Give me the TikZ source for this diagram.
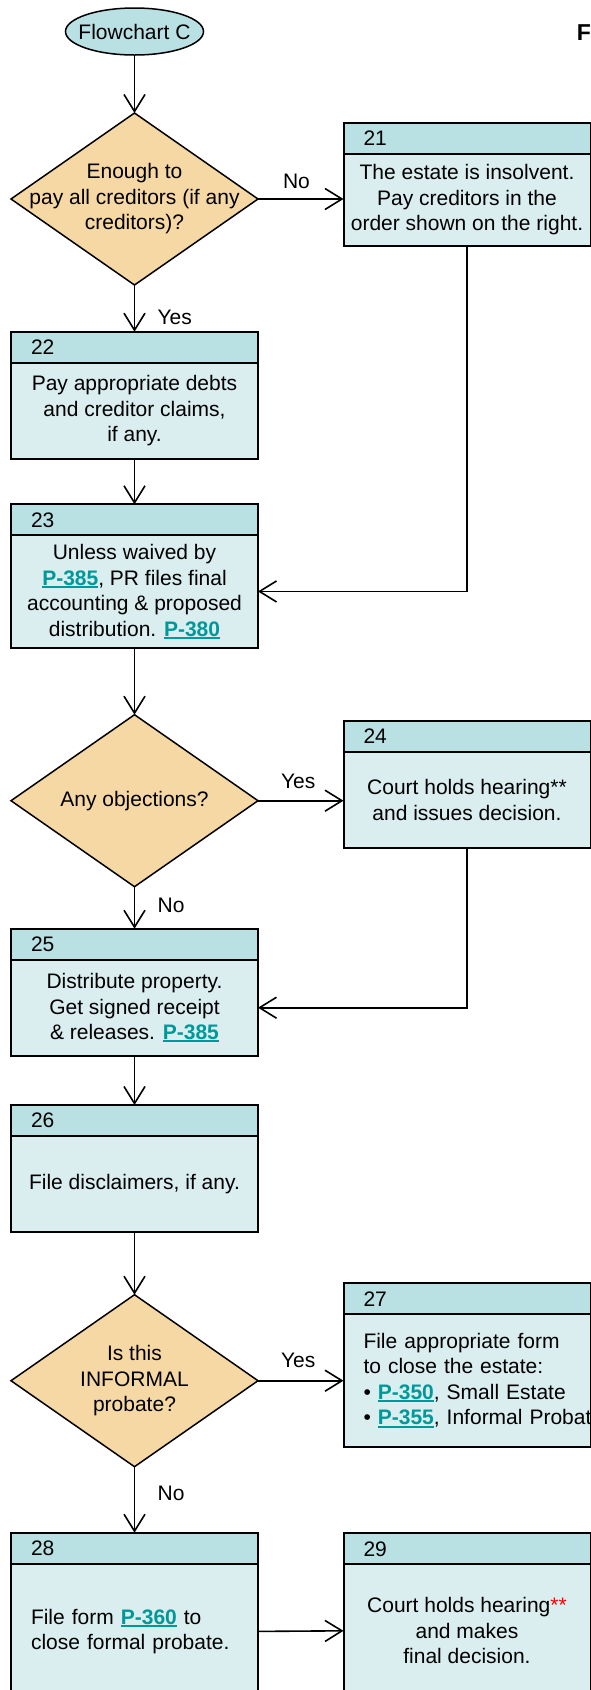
\documentclass[tikz,border=0pt]{standalone}
\usepackage{fontspec}
\setmainfont{Liberation Sans}
\usetikzlibrary{shapes.geometric,positioning,arrows.meta}

\definecolor{headfill}{RGB}{185,224,227}
\definecolor{bodyfill}{RGB}{218,237,239}
\definecolor{decfill}{RGB}{246,216,165}
\definecolor{linkteal}{RGB}{0,153,153}

% bold teal form number with a heavy underline
\newsavebox\linkbox
\newcommand{\plink}[1]{\sbox\linkbox{\bfseries\color{linkteal}#1}{\color{linkteal}\rlap{\rule[-2.6pt]{\wd\linkbox}{1.8pt}}}\usebox\linkbox}

\tikzset{
  headbox/.style={draw, line width=2pt, fill=headfill, outer sep=0pt, minimum height=31pt,
    text width=207pt, inner xsep=20pt, inner ysep=3pt, align=left},
  bodybox/.style={draw, line width=2pt, fill=bodyfill, outer sep=0pt, minimum width=247pt,
    inner xsep=0pt, inner ysep=3pt, align=center},
  leftbody/.style={draw, line width=2pt, fill=bodyfill, outer sep=0pt, text width=207pt,
    inner xsep=20pt, inner ysep=3pt, align=left},
  decision/.style={diamond, draw, line width=1.5pt, fill=decfill, minimum width=247pt,
    minimum height=172pt, inner sep=0pt, outer sep=0pt},
}

\begin{document}
\begin{tikzpicture}[x=1pt, y=-1pt, font=\fontsize{21}{25.5}\selectfont, line width=1.6pt,
    >={Straight Barb[length=17pt,width=21pt]}]
    \useasboundingbox (0,0) rectangle (591,1690);
    \clip (0,0) rectangle (591,1690);

    % start and title
    \node[ellipse, draw, line width=1.5pt, fill=headfill, minimum width=138pt, minimum height=47pt, inner sep=0pt] (start) at (134.5,31.5) {};
    \node (starttext) at (start) {Flowchart C};
    \node[anchor=base west, inner sep=0pt, font=\fontsize{23}{27}\selectfont\bfseries] (title) at (576,40) {F};

    % first question
    \node[decision] (q1) at (134.5,199) {};
    \node[align=center] (q1text) at (q1) {Enough to\\ pay all creditors (if any\\ creditors)?};

    \node[headbox, anchor=north west] (h21) at (343.5,122.7) {21};
    \node[bodybox, below=0pt of h21, minimum height=92.7pt] (b21) {The estate is insolvent.\\ Pay creditors in the\\ order shown on the right.};

    \node[headbox, anchor=north west] (h22) at (11,331.7) {22};
    \node[bodybox, below=0pt of h22, minimum height=96.6pt] (b22) {Pay appropriate debts\\ and creditor claims,\\ if any.};

    \node[headbox, anchor=north west] (h23) at (11,504.3) {23};
    \node[bodybox, below=0pt of h23, minimum height=112.3pt] (b23) {Unless waived by\\ \plink{P-385}, PR files final\\ accounting \& proposed\\ distribution. \plink{P-380}};

    % objections
    \node[decision] (q2) at (134.5,800.7) {};
    \node (q2text) at (q2) {Any objections?};

    \node[headbox, anchor=north west] (h24) at (343.5,721) {24};
    \node[bodybox, below=0pt of h24, minimum height=96.4pt] (b24) {Court holds hearing**\\ and issues decision.};

    \node[headbox, anchor=north west] (h25) at (11,928.7) {25};
    \node[bodybox, below=0pt of h25, minimum height=96pt] (b25) {Distribute property.\\ Get signed receipt\\ \& releases. \plink{P-385}};

    \node[headbox, anchor=north west] (h26) at (11,1105) {26};
    \node[bodybox, below=0pt of h26, minimum height=95.6pt] (b26) {File disclaimers, if any.};

    % informal or formal
    \node[decision] (q3) at (134.5,1380.7) {};
    \node[align=center] (q3text) at (q3) {Is this\\ INFORMAL\\ probate?};

    \node[headbox, anchor=north west] (h27) at (343.5,1283.3) {27};
    \node[leftbody, below=0pt of h27, minimum height=132.3pt] (b27) {File appropriate form\\ to close the estate:\\ \mbox{\textbullet\ \plink{P-350}, Small Estate}\\ \mbox{\textbullet\ \plink{P-355}, Informal Probate}};

    \node[headbox, anchor=north west] (h28) at (11,1532.7) {28};
    \node[leftbody, below=0pt of h28, minimum height=135.4pt] (b28) {File form \plink{P-360} to\\ close formal probate.};

    \node[headbox, anchor=north west] (h29) at (343.5,1533.3) {29};
    \node[bodybox, below=0pt of h29, minimum height=133pt] (b29) {Court holds hearing\textcolor{red}{**}\\ and makes\\ final decision.};

    % connectors
    \draw[->] (start.south) -- (q1.north);
    \draw[->] (q1.east) -- (q1.east -| b21.west) node[pos=0.45, above=6pt] (no1) {No};
    \draw[->] (q1.south) -- (h22.north) node[pos=0.7, right=19pt] (yes1) {Yes};
    \draw[->] (b22.south) -- (h23.north);
    \draw[->] (b21.south) |- (b23.east);
    \draw[->] (b23.south) -- (q2.north);
    \draw[->] (q2.east) -- (q2.east -| b24.west) node[pos=0.47, above=8pt] (yes2) {Yes};
    \draw[->] (q2.south) -- (h25.north) node[pos=0.44, right=19pt] (no2) {No};
    \draw[->] (b24.south) |- (b25.east);
    \draw[->] (b25.south) -- (h26.north);
    \draw[->] (b26.south) -- (q3.north);
    \draw[->] (q3.east) -- (q3.east -| b27.west) node[pos=0.47, above=9pt] (yes3) {Yes};
    \draw[->] (q3.south) -- (h28.north) node[pos=0.4, right=19pt] (no3) {No};
    \draw[->] (b28.east) -- (b29.west);
\end{tikzpicture}
\end{document}
